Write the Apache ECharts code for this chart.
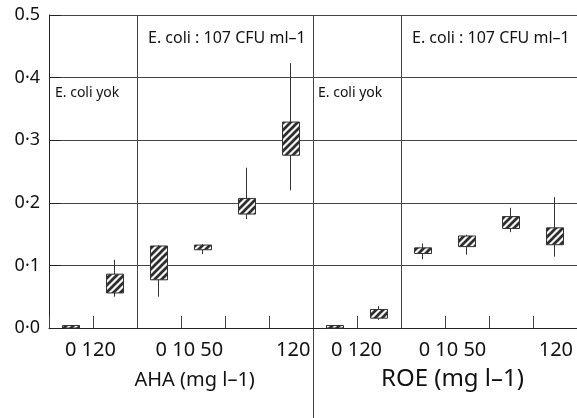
<!DOCTYPE html>
<html><head><meta charset="utf-8">
<script src="https://cdn.jsdelivr.net/npm/echarts@6/dist/echarts.min.js"></script>
<style>html,body{margin:0;padding:0;background:#fff}#c{width:577px;height:418px}</style>
</head><body><div id="c"></div>
<script>
// ---- data ----
const categories = ['AHA 0 (yok)','AHA 120 (yok)','AHA 0','AHA 10','AHA 50','AHA 120',
                    'ROE 0 (yok)','ROE 120 (yok)','ROE 0','ROE 10','ROE 50','ROE 120'];
const q1   = [0.000, 0.056, 0.077, 0.125, 0.182, 0.276, 0.000, 0.0157, 0.119, 0.130, 0.159, 0.133];
const q3   = [0.004, 0.086, 0.131, 0.1325, 0.207, 0.329, 0.004, 0.0296, 0.128, 0.147, 0.178, 0.160];
const low  = [0.000, 0.050, 0.050, 0.118, 0.174, 0.220, 0.000, 0.013, 0.110, 0.117, 0.153, 0.114];
const high = [0.004, 0.109, 0.132, 0.134, 0.256, 0.423, 0.004, 0.035, 0.135, 0.149, 0.192, 0.209];
const yTickLabels = ['0·0','0·1','0·2','0·3','0·4','0.5'];
const xGroupLabels = ['0 120','0 10 50','120','0 120','0 10 50','120'];
const xGroupLabelAt = [0.94, 3.19, 5.55, 6.99, 9.17, 11.52];
const dividerAt = [2, 6, 8];
const noteEcoli = 'E. coli : 107 CFU ml–1';
const noteNone = 'E. coli yok';
const titleAHA = 'AHA (mg l–1)';
const titleROE = 'ROE (mg l–1)';

// ---- hatch pattern ----
function makeHatch(){
  const s = 7, c = document.createElement('canvas');
  c.width = s; c.height = s;
  const g = c.getContext('2d');
  g.fillStyle = '#f6f6f6'; g.fillRect(0,0,s,s);
  g.strokeStyle = '#2e2e2e'; g.lineWidth = 2.7;
  g.beginPath();
  g.moveTo(-1, s+1); g.lineTo(s+1, -1);
  g.moveTo(-1, 1); g.lineTo(1, -1);
  g.moveTo(s-1, s+1); g.lineTo(s+1, s-1);
  g.stroke();
  return c;
}
const hatch = {image: makeHatch(), repeat: 'repeat'};

const FONT = 'Noto Sans';
const chart = echarts.init(document.getElementById('c'), null, {renderer: 'canvas'});
const lineCol = '#444';

const option = {
  animation: false,
  backgroundColor: '#fff',
  grid: {left: 49, right: 0, top: 15, bottom: 90},
  xAxis: [{
    type: 'category', data: categories, boundaryGap: true,
    axisLine: {show: true, lineStyle: {color: '#222', width: 1}},
    axisTick: {show: true, inside: true, length: 12, interval: 0, lineStyle: {color: lineCol}},
    axisLabel: {show: false},
    splitLine: {show: true, interval: (i) => dividerAt.includes(i), lineStyle: {color: lineCol, width: 1}}
  }, {
    type: 'value', min: 0, max: 12, position: 'bottom',
    axisLine: {show: false}, axisTick: {show: false}, splitLine: {show: false},
    axisLabel: {
      customValues: xGroupLabelAt, margin: 12, fontSize: 20, fontFamily: FONT, color: '#111',
      formatter: (v) => { const i = xGroupLabelAt.findIndex(p => Math.abs(p - v) < 1e-6); return i >= 0 ? xGroupLabels[i] : ''; }
    }
  }],
  yAxis: {
    type: 'value', min: 0, max: 0.5, interval: 0.1,
    axisLine: {show: true, lineStyle: {color: '#222', width: 1}},
    axisTick: {show: true, inside: true, length: 12, lineStyle: {color: '#222'}},
    axisLabel: {margin: 9, fontSize: 18, fontFamily: FONT, color: '#111',
      formatter: (v) => yTickLabels[Math.round(v * 10)]},
    splitLine: {show: true, lineStyle: {color: lineCol, width: 1}}
  },
  series: [{
    type: 'candlestick',
    xAxisIndex: 0,
    barWidth: 18,
    itemStyle: {color: hatch, color0: hatch, borderColor: '#333', borderColor0: '#333', borderWidth: 1},
    data: categories.map((c, i) => [q1[i], q3[i], low[i], high[i]])
  }]
};
chart.setOption(option);

const xDiv = chart.convertToPixel({xAxisIndex: 1}, dividerAt[1]);
const y0 = chart.convertToPixel({yAxisIndex: 0}, 0);
const xA = chart.convertToPixel({xAxisIndex: 1}, dividerAt[0]);
const xB = chart.convertToPixel({xAxisIndex: 1}, dividerAt[2]);
const xL = chart.convertToPixel({xAxisIndex: 1}, 0);
const xAHA = chart.convertToPixel({xAxisIndex: 1}, 3.31);
const xROE = chart.convertToPixel({xAxisIndex: 1}, 9.17);
function txt(x, y, text, size, align){
  return {type: 'text', x: x, y: y, silent: true,
    style: {text: text, fontSize: size, fontFamily: FONT, fill: '#111',
      align: align || 'left', verticalAlign: 'middle', textAlign: align || 'left', textVerticalAlign: 'middle'}};
}
chart.setOption({graphic: [
  {type: 'line', silent: true, shape: {x1: Math.round(xDiv) + 0.5, y1: y0, x2: Math.round(xDiv) + 0.5, y2: 418},
   style: {stroke: lineCol, lineWidth: 1}},
  txt(xA + 11, 38, noteEcoli, 16),
  txt(xB + 11, 38, noteEcoli, 16),
  txt(xL + 6, 93, noteNone, 14),
  txt(xDiv + 5, 93, noteNone, 14),
  txt(xAHA, 380, titleAHA, 20, 'center'),
  txt(xROE, 379, titleROE, 24, 'center')
]});
</script></body></html>
